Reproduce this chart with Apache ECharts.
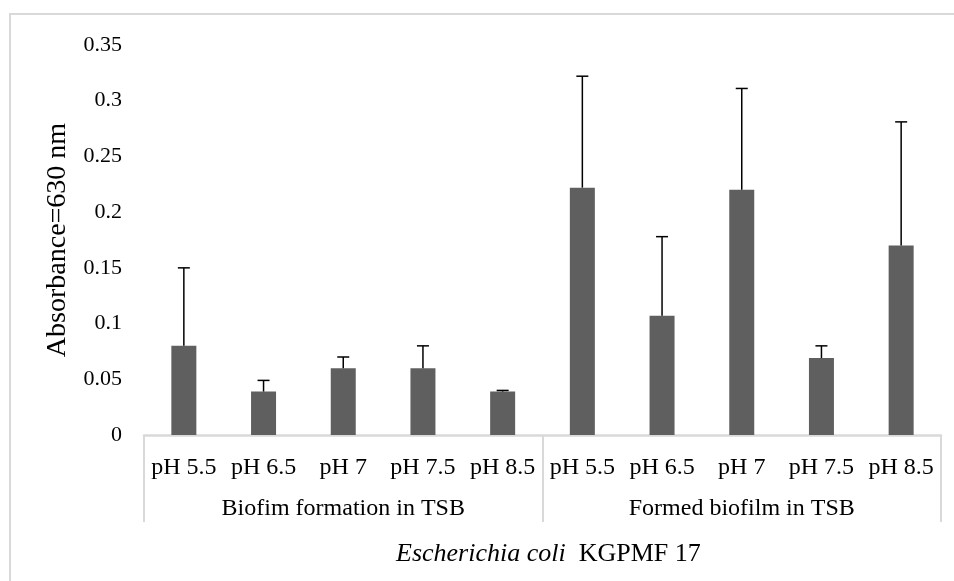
<!DOCTYPE html>
<html>
<head>
<meta charset="utf-8">
<script src="https://cdn.jsdelivr.net/npm/echarts@6/dist/echarts.min.js"></script>
<style>
  html, body { margin: 0; padding: 0; background: #fff; }
  #chart { width: 954px; height: 581px; }
</style>
</head>
<body>
<div id="chart"></div>
<script>
// pH labels, two groups of five
var categories = ['pH 5.5', 'pH 6.5', 'pH 7', 'pH 7.5', 'pH 8.5',
                  'pH 5.5', 'pH 6.5', 'pH 7', 'pH 7.5', 'pH 8.5'];
var groups = ['Biofim formation in TSB', 'Formed biofilm in TSB'];
// mean absorbance
var means = [0.08, 0.039, 0.06, 0.06, 0.039,
             0.222, 0.107, 0.22, 0.069, 0.17];
// standard deviation (plus side only)
var errors = [0.07, 0.01, 0.01, 0.02, 0.001,
              0.10, 0.071, 0.091, 0.011, 0.111];
var yTicks = [0, 0.05, 0.1, 0.15, 0.2, 0.25, 0.3, 0.35];

var font = 'Liberation Serif, Times New Roman, serif';

var errData = [];
for (var i = 0; i < means.length; i++) {
    errData.push([i, means[i], means[i] + errors[i]]);
}

var myChart = echarts.init(document.getElementById('chart'));
var option = {
    animation: false,
    backgroundColor: '#fff',
    grid: {
        left: 144,
        right: 13,
        top: 45,
        bottom: 146
    },
    graphic: [{
        type: 'rect',
        shape: { x: 10, y: 14, width: 980, height: 620 },
        style: { fill: 'none', stroke: '#d9d9d9', lineWidth: 2 },
        silent: true
    }, {
        type: 'text',
        left: 396,
        top: 541,
        style: {
            text: '{i|Escherichia coli}  KGPMF 17',
            font: '26px ' + font,
            fill: '#000',
            rich: {
                i: { fontStyle: 'italic', fontSize: 26, fontFamily: font, fill: '#000' }
            }
        }
    }],
    xAxis: [{
        type: 'category',
        position: 'bottom',
        data: categories,
        axisLine: { lineStyle: { color: '#d9d9d9', width: 2.5 } },
        axisTick: { show: false },
        axisLabel: {
            interval: 0,
            margin: 21,
            color: '#000',
            fontSize: 24,
            fontFamily: font
        }
    }, {
        type: 'category',
        position: 'bottom',
        data: groups,
        axisLine: { show: false },
        axisTick: {
            show: true,
            length: 87,
            lineStyle: { color: '#d9d9d9', width: 2 }
        },
        axisLabel: {
            interval: 0,
            margin: 62,
            color: '#000',
            fontSize: 24,
            fontFamily: font
        }
    }],
    yAxis: {
        type: 'value',
        min: 0,
        max: 0.35,
        interval: 0.05,
        name: 'Absorbance=630 nm',
        nameLocation: 'middle',
        nameRotate: 90,
        nameGap: 72,
        nameTextStyle: { color: '#000', fontSize: 28, fontFamily: font },
        axisLine: { show: false },
        axisTick: { show: false },
        splitLine: { show: false },
        axisLabel: {
            margin: 22,
            color: '#000',
            fontSize: 22,
            fontFamily: font
        }
    },
    series: [{
        type: 'bar',
        data: means,
        barWidth: 25,
        itemStyle: { color: '#5f5f5f' }
    }, {
        type: 'custom',
        data: errData,
        z: 10,
        renderItem: function (params, api) {
            var x = api.value(0);
            var base = api.coord([x, api.value(1)]);
            var top = api.coord([x, api.value(2)]);
            var half = 6;
            var style = { stroke: '#000', lineWidth: 1.5 };
            return {
                type: 'group',
                children: [{
                    type: 'line',
                    shape: { x1: base[0], y1: base[1], x2: top[0], y2: top[1] },
                    style: style
                }, {
                    type: 'line',
                    shape: { x1: top[0] - half, y1: top[1], x2: top[0] + half, y2: top[1] },
                    style: style
                }]
            };
        }
    }]
};

option && myChart.setOption(option);
</script>
</body>
</html>
